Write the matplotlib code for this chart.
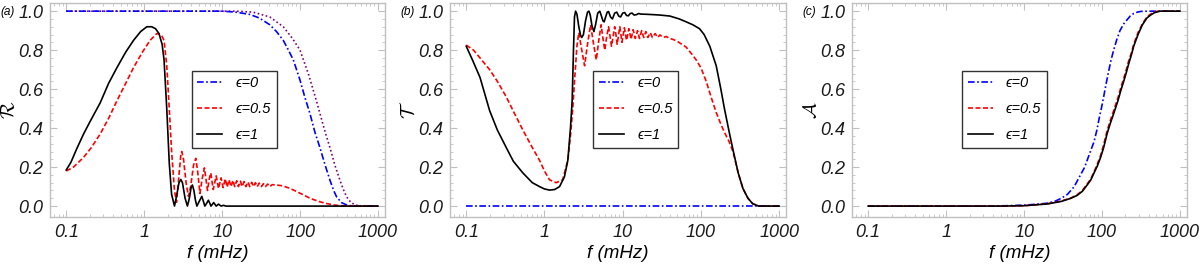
import matplotlib
matplotlib.use("Agg")

import matplotlib.pyplot as plt
from matplotlib.ticker import FixedLocator, LogLocator, NullFormatter, FixedFormatter
import numpy as np

plt.rcParams["font.family"] = ["Liberation Sans", "DejaVu Sans"]
plt.rcParams["mathtext.fontset"] = "cm"

# ---------------- panel (a): reflectance ----------------
a_blue_f = [0.1, 10, 15, 22.8, 30, 41, 50, 61, 70, 82, 100, 115, 134, 155, 180, 210,
            242, 270, 294, 340, 400, 480, 1000]
a_blue_r = [1.0, 1.0, 0.995, 0.983, 0.965, 0.93, 0.895, 0.85, 0.805, 0.75, 0.646, 0.56,
            0.475, 0.38, 0.3, 0.21, 0.133, 0.08, 0.048, 0.018, 0.005, 0.0, 0.0]

a_purple_f = [0.1, 15, 25, 41, 61, 80, 100, 130, 165, 180, 210, 242, 280, 325, 360, 395,
              450, 520, 600, 1000]
a_purple_r = [1.0, 1.0, 0.995, 0.97, 0.92, 0.86, 0.80, 0.67, 0.53, 0.475, 0.38, 0.30,
              0.21, 0.133, 0.085, 0.048, 0.018, 0.005, 0.0, 0.0]

a_red_f = [0.1, 0.124, 0.167, 0.21, 0.273, 0.35, 0.447, 0.58, 0.73, 0.95, 1.19, 1.45,
           1.65, 1.8, 1.95, 2.1, 2.25, 2.45, 2.6, 2.8, 2.95, 3.04, 3.2, 3.45, 3.7, 3.95,
           4.3, 4.6, 4.85, 5.2, 5.55, 5.93, 6.2, 6.5, 6.85, 7.16, 7.4, 7.7,
           8.4, 9.0, 9.7, 10.3, 11.0, 11.6, 12.3, 13.0, 13.8, 14.5, 15.4, 16.2, 17.2,
           18.0, 19.2, 20.2, 21.5, 22.6, 24.0, 25.2, 26.8, 28.2, 30, 32, 34, 36, 38.5,
           41, 44, 50, 60, 75, 90, 110, 130, 150, 180, 220, 270, 330, 450, 1000]
a_red_r = [0.18, 0.2, 0.25, 0.3, 0.37, 0.45, 0.54, 0.63, 0.71, 0.79, 0.85, 0.885,
           0.88, 0.85, 0.72, 0.5, 0.28, 0.08, 0.02, 0.16, 0.26, 0.28, 0.24, 0.12, 0.05, 0.1,
           0.21, 0.245, 0.18, 0.065, 0.14, 0.196, 0.14, 0.08, 0.14, 0.17, 0.13, 0.085,
           0.155, 0.09, 0.145, 0.095, 0.14, 0.097, 0.135, 0.1, 0.132, 0.1, 0.13, 0.1, 0.128,
           0.1, 0.126, 0.1, 0.124, 0.1, 0.122, 0.1, 0.12, 0.1, 0.118, 0.1, 0.115, 0.1, 0.113,
           0.1, 0.11, 0.108, 0.104, 0.09, 0.075, 0.058, 0.043, 0.033, 0.022, 0.013, 0.006,
           0.002, 0.0, 0.0]

a_black_f = [0.1, 0.115, 0.135, 0.167, 0.2, 0.273, 0.35, 0.447, 0.58, 0.73, 0.9, 1.08,
             1.25, 1.4, 1.55, 1.7, 1.8, 1.95, 2.1, 2.25, 2.45, 2.6, 2.8, 2.95, 3.1, 3.35,
             3.59, 3.8, 4.0, 4.16, 4.35, 4.55, 4.75, 5.1, 5.49, 5.75, 6.0, 6.35, 6.67, 6.95,
             7.2, 7.5, 7.8, 8.1, 8.4, 8.7, 9.0, 9.35, 9.7, 10.4, 11.2, 15, 1000]
a_black_r = [0.185, 0.225, 0.29, 0.37, 0.43, 0.53, 0.63, 0.71, 0.79, 0.85, 0.895, 0.92,
             0.92, 0.91, 0.885, 0.83, 0.75, 0.5, 0.22, 0.06, 0.0, 0.05, 0.12, 0.137, 0.12,
             0.04, 0.0, 0.04, 0.095, 0.108, 0.08, 0.03, 0.0, 0.025, 0.05, 0.025, 0.0, 0.015,
             0.03, 0.015, 0.0, 0.009, 0.018, 0.009, 0.0, 0.005, 0.01, 0.005, 0.0, 0.004, 0.0,
             0.0, 0.0]

# ---------------- panel (b): transmittance ----------------
b_blue_f = [0.1, 1000]
b_blue_t = [0.0, 0.0]

b_red_f = [0.1, 0.124, 0.15, 0.199, 0.25, 0.325, 0.42, 0.53, 0.7, 0.865, 1.0, 1.16, 1.41,
           1.71, 1.99, 2.15, 2.3, 2.45, 2.6, 2.75, 3.0, 3.26, 3.55, 3.89, 4.25, 4.6, 4.95,
           5.3, 5.6, 5.9, 6.25, 6.6, 6.9, 7.2, 7.55, 7.9, 8.2, 8.5,
           9.2, 9.8, 10.5, 11.2, 12, 12.8, 13.6, 14.5, 15.5, 16.4, 17.5, 18.6, 19.8, 21,
           22.5, 24, 26, 28, 30, 33, 36, 40, 44, 50, 57, 65, 73, 80, 87, 100, 117, 135,
           157, 180, 205, 230, 257, 300, 345, 400, 460, 550, 1000]
b_red_t = [0.826, 0.80, 0.76, 0.70, 0.64, 0.56, 0.47, 0.39, 0.30, 0.235, 0.18, 0.135, 0.12,
           0.135, 0.235, 0.36, 0.5, 0.67, 0.82, 0.89, 0.8, 0.72, 0.83, 0.93, 0.83, 0.75,
           0.85, 0.93, 0.86, 0.80, 0.87, 0.92, 0.87, 0.82, 0.87, 0.92, 0.88, 0.83,
           0.92, 0.84, 0.915, 0.85, 0.91, 0.855, 0.905, 0.86, 0.9, 0.86, 0.9, 0.865, 0.895,
           0.865, 0.89, 0.865, 0.885, 0.865, 0.878, 0.865, 0.87, 0.86, 0.855, 0.845, 0.83,
           0.815, 0.79, 0.77, 0.75, 0.71, 0.64, 0.56, 0.48, 0.42, 0.37, 0.33, 0.28, 0.17,
           0.09, 0.04, 0.012, 0.0, 0.0]

b_black_f = [0.1, 0.12, 0.15, 0.199, 0.25, 0.325, 0.4, 0.53, 0.7, 0.865, 1.0, 1.16, 1.35,
             1.56, 1.8, 1.99, 2.15, 2.26, 2.35, 2.42, 2.5, 2.6, 2.75, 2.9, 3.0, 3.15, 3.35,
             3.55, 3.7, 3.85, 4.05, 4.29, 4.5, 4.8, 5.1, 5.35, 5.6, 5.8, 6.05, 6.35, 6.6,
             7.0, 7.4, 7.9, 8.4, 8.9, 9.4, 10, 10.6, 11.2, 11.8, 12.5, 13.2, 14, 15, 16,
             17, 20, 25, 30, 40, 53, 65, 79, 96, 110, 130, 157, 180, 200, 230, 257, 300,
             345, 400, 460, 550, 1000]
b_black_t = [0.82, 0.75, 0.66, 0.49, 0.39, 0.30, 0.23, 0.17, 0.12, 0.1, 0.088, 0.082, 0.085,
             0.1, 0.15, 0.235, 0.4, 0.54, 0.8, 0.97, 1.0, 0.985, 0.92, 0.875, 0.865, 0.88,
             0.95, 0.995, 1.0, 0.98, 0.925, 0.895, 0.93, 0.99, 1.0, 0.975, 0.95, 0.945, 0.97,
             0.995, 0.998, 0.97, 0.96, 0.99, 0.995, 0.975, 0.97, 0.99, 0.993, 0.978, 0.976,
             0.988, 0.99, 0.98, 0.982, 0.988, 0.985, 0.984, 0.982, 0.98, 0.975, 0.96, 0.945,
             0.93, 0.91, 0.88, 0.82, 0.72, 0.6, 0.5, 0.38, 0.29, 0.17, 0.09, 0.04, 0.012,
             0.0, 0.0]

# ---------------- panel (c): absorbance ----------------
c_blue_f = [0.1, 3, 6, 10, 15, 20, 25, 30, 36, 44, 53, 60, 68, 79, 86, 92, 98, 105, 112,
            120, 130, 141, 155, 170, 190, 209, 230, 255, 290, 320, 400, 1000]
c_blue_a = [0.0, 0.0, 0.002, 0.005, 0.01, 0.015, 0.025, 0.04, 0.06, 0.1, 0.16, 0.2, 0.26,
            0.33, 0.39, 0.45, 0.5, 0.56, 0.62, 0.68, 0.745, 0.8, 0.855, 0.9, 0.935, 0.955,
            0.975, 0.988, 0.996, 0.999, 1.0, 1.0]

c_red_f = [0.1, 5, 10, 20, 30, 40, 48, 56, 65, 72, 79, 87, 96, 105, 116, 128, 140, 160,
           175, 190, 205, 220, 240, 255, 290, 330, 377, 420, 470, 520, 1000]
c_red_a = [0.0, 0.0, 0.002, 0.012, 0.026, 0.042, 0.058, 0.08, 0.115, 0.14, 0.175, 0.215,
           0.26, 0.315, 0.385, 0.44, 0.485, 0.555, 0.61, 0.655, 0.7, 0.745, 0.79, 0.83,
           0.89, 0.935, 0.97, 0.985, 0.995, 1.0, 1.0]

c_black_f = [0.1, 5, 10, 20, 30, 40, 48, 56, 65, 72, 79, 87, 96, 105, 116, 128, 140, 160,
             175, 190, 205, 220, 240, 255, 290, 330, 377, 420, 470, 556, 1000]
c_black_a = [0.0, 0.0, 0.002, 0.011, 0.024, 0.04, 0.055, 0.076, 0.11, 0.135, 0.17, 0.205,
             0.25, 0.3, 0.37, 0.425, 0.47, 0.54, 0.595, 0.64, 0.685, 0.73, 0.78, 0.82,
             0.88, 0.93, 0.965, 0.98, 0.992, 1.0, 1.0]

legend_labels = ["\u03f5=0", "\u03f5=0.5", "\u03f5=1"]
x_ticks = [0.1, 1, 10, 100, 1000]
x_ticklabels = ["0.1", "1", "10", "100", "1000"]
y_ticks = [0.0, 0.2, 0.4, 0.6, 0.8, 1.0]
y_ticklabels = ["0.0", "0.2", "0.4", "0.6", "0.8", "1.0"]

FRAME = "#c0c0c0"
BLUE = "#0000ff"
RED = "#ff0000"
PURPLE = "#800080"
DASHDOT = (0, (4, 1.5, 1, 1.5))
DASHED = (0, (3, 1.5))
DOTTED = (0, (1, 1.5))


def style_axes(ax, ylabel, tag, legend_left):
    ax.set_xscale("log")
    ax.set_xlim(0.062, 1225)
    ax.set_ylim(-0.056, 1.041)
    for sp in ax.spines.values():
        sp.set_color(FRAME)
        sp.set_linewidth(1.0)
    ax.xaxis.set_major_locator(FixedLocator(x_ticks))
    ax.xaxis.set_major_formatter(FixedFormatter(x_ticklabels))
    ax.xaxis.set_minor_locator(LogLocator(base=10, subs=np.arange(2, 10)))
    ax.xaxis.set_minor_formatter(NullFormatter())
    ax.yaxis.set_major_locator(FixedLocator(y_ticks))
    ax.yaxis.set_major_formatter(FixedFormatter(y_ticklabels))
    ax.yaxis.set_minor_locator(FixedLocator(np.arange(0, 1.01, 0.04)))
    ax.tick_params(which="both", direction="in", top=True, right=True, color=FRAME)
    ax.tick_params(which="major", length=5, width=0.8, labelsize=13, pad=5)
    ax.tick_params(which="minor", length=2.5, width=0.6)
    for lab in ax.get_xticklabels() + ax.get_yticklabels():
        lab.set_fontstyle("italic")
        lab.set_color("#1a1a1a")
    ax.set_xlabel("f (mHz)", fontsize=13.5, fontstyle="italic", labelpad=3)
    ax.set_ylabel(ylabel, fontsize=14)
    ax.yaxis.set_label_coords(-0.092, 0.5)
    ax.text(-0.148, 0.985, tag, transform=ax.transAxes, fontsize=8.5,
            fontstyle="italic", va="top", ha="left")
    leg = ax.legend(loc="upper left", bbox_to_anchor=(legend_left, 0.685),
                    fontsize=10.5, frameon=True, fancybox=False, handlelength=1.7,
                    borderpad=0.4, labelspacing=0.8, handletextpad=0.9,
                    borderaxespad=0)
    leg.get_frame().set_edgecolor("black")
    leg.get_frame().set_linewidth(1.0)
    for t in leg.get_texts():
        t.set_fontstyle("italic")


fig = plt.figure(figsize=(12, 2.64), dpi=100)
ax_a = fig.add_axes([0.0417, 0.178, 0.279, 0.81])
ax_b = fig.add_axes([0.375, 0.178, 0.28, 0.81])
ax_c = fig.add_axes([0.71, 0.178, 0.279, 0.81])

lw = 1.2

ax_a.plot(a_purple_f, a_purple_r, color=PURPLE, ls=DOTTED, lw=lw)
ax_a.plot(a_blue_f, a_blue_r, color=BLUE, ls=DASHDOT, lw=lw, label=legend_labels[0])
ax_a.plot(a_red_f, a_red_r, color=RED, ls=DASHED, lw=lw, label=legend_labels[1])
ax_a.plot(a_black_f, a_black_r, color="black", ls="-", lw=lw, label=legend_labels[2])
style_axes(ax_a, r"$\mathcal{R}$", "(a)", 0.423)

ax_b.plot(b_blue_f, b_blue_t, color=BLUE, ls=DASHDOT, lw=lw, label=legend_labels[0])
ax_b.plot(b_red_f, b_red_t, color=RED, ls=DASHED, lw=lw, label=legend_labels[1])
ax_b.plot(b_black_f, b_black_t, color="black", ls="-", lw=lw, label=legend_labels[2])
style_axes(ax_b, r"$\mathcal{T}$", "(b)", 0.427)

ax_c.plot(c_blue_f, c_blue_a, color=BLUE, ls=DASHDOT, lw=lw, label=legend_labels[0])
ax_c.plot(c_red_f, c_red_a, color=RED, ls=DASHED, lw=lw, label=legend_labels[1])
ax_c.plot(c_black_f, c_black_a, color="black", ls="-", lw=lw, label=legend_labels[2])
style_axes(ax_c, r"$\mathcal{A}$", "(c)", 0.329)

fig.savefig("out.png", dpi=100)
